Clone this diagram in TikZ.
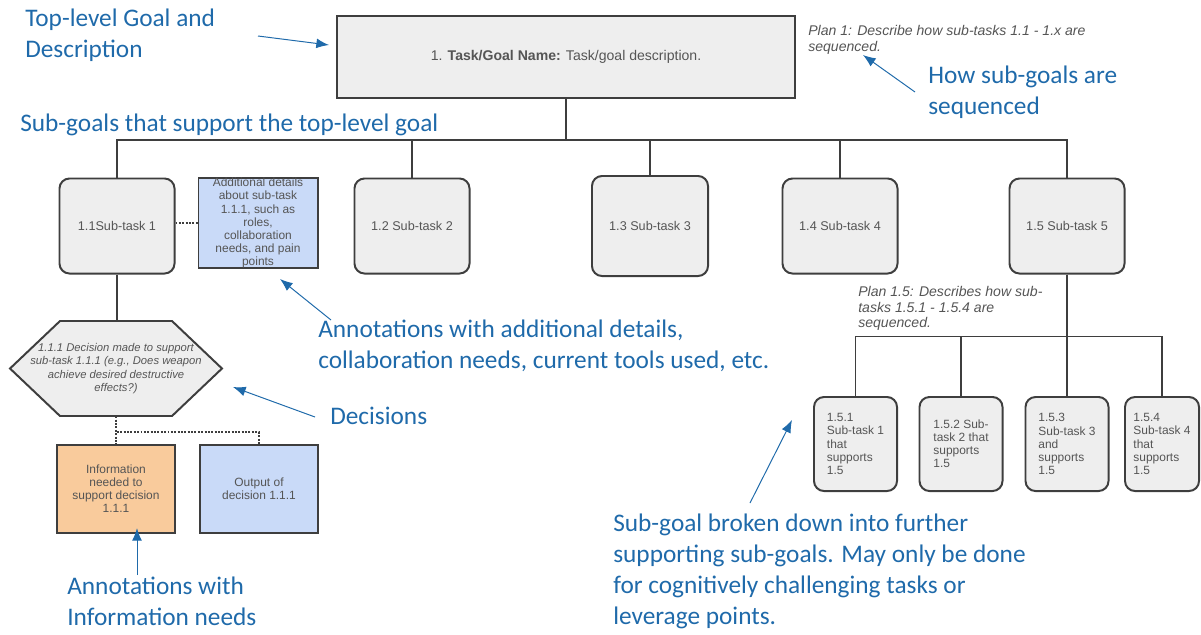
\documentclass[tikz,border=0pt]{standalone}
\usepackage{fontspec}
\setmainfont{Liberation Sans}
\newfontfamily\annfont{Carlito}
\usepackage{tikz}
\usetikzlibrary{arrows.meta}

\definecolor{boxgray}{RGB}{238,238,238}
\definecolor{edgegray}{RGB}{62,62,62}
\definecolor{txtgray}{RGB}{85,85,85}
\definecolor{noteblue}{RGB}{201,218,248}
\definecolor{noteorange}{RGB}{249,203,156}
\definecolor{annblue}{RGB}{31,106,170}

\newcommand{\cellfont}{\fontsize{8.5}{9.3}\selectfont}
\newcommand{\taskfont}{\fontsize{9}{10.5}\selectfont}
\newcommand{\planfont}{\itshape\fontsize{10}{11.2}\selectfont}
\newcommand{\annsize}{\annfont\fontsize{18}{22}\selectfont}

\tikzset{
	task/.style={draw=edgegray, line width=1.4pt, fill=boxgray, rounded corners=0.25cm, text=txtgray, font=\taskfont, minimum width=2.875cm, minimum height=2.375cm, inner sep=0pt},
	subtask/.style={task, font=\cellfont, align=left, minimum width=2.075cm, minimum height=2.35cm},
	note/.style={draw=edgegray, line width=1.4pt, text=txtgray, font=\cellfont, align=center, minimum width=2.95cm, minimum height=2.2cm, inner sep=0pt},
	conn/.style={draw=edgegray, line width=1.4pt},
	dots/.style={draw=edgegray, line width=1.4pt, densely dotted},
	ann/.style={text=annblue, font=\annsize, align=left, anchor=north west, inner sep=0pt},
	point/.style={-{Latex[length=9pt,width=7pt]}, draw=annblue, line width=0.7pt}
}

\begin{document}
\begin{tikzpicture}[x=0.025cm, y=-0.025cm]
	\useasboundingbox (0,0) rectangle (1201,634);
	\begin{scope}
		% top-level goal
		\node[task, rounded corners=0pt, font=\fontsize{10}{12}\selectfont, minimum width=11.45cm, minimum height=2.05cm] (t1) at (566,57) {1. \textbf{Task/Goal Name:} Task/goal description.};
		\node[text=txtgray, font=\planfont, align=left, anchor=north west, inner sep=0pt] (plan1) at (808,25) {Plan 1: Describe how sub-tasks 1.1 - 1.x are\\sequenced.};

		% sub-goals
		\node[task] (t11) at (117,226) {1.1Sub-task 1};
		\node[task] (t12) at (412,226) {1.2 Sub-task 2};
		\node[task, minimum width=2.9cm, minimum height=2.5cm] (t13) at (650,226) {1.3 Sub-task 3};
		\node[task] (t14) at (840,226) {1.4 Sub-task 4};
		\node[task] (t15) at (1067,226) {1.5 Sub-task 5};
		\foreach \n in {t11,t12,t13,t14,t15}
			\draw[conn] (t1.south) -- ++(0,41) -| (\n.north);

		% annotation of 1.1
		\node[note, fill=noteblue, minimum width=2.975cm, minimum height=2.25cm] (det) at (258,223) {Additional details\\about sub-task\\1.1.1, such as\\roles,\\collaboration\\needs, and pain\\points};
		\draw[dots] (t11.east |- det.west) -- (det.west);

		% decision
		\coordinate (decc) at (116,368.5);
		\draw[conn, fill=boxgray] (decc) ++(-106,0) -- ++(50,-47.5) -- ++(112,0) -- ++(50,47.5) -- ++(-50,47.5) -- ++(-112,0) -- cycle;
		\node[text=txtgray, font=\itshape\fontsize{8}{9.4}\selectfont, align=center, minimum width=5.3cm, minimum height=2.375cm, inner sep=0pt] (dec) at (decc) {1.1.1 Decision made to support\\sub-task 1.1.1 (e.g., Does weapon\\achieve desired destructive\\effects?)};
		\draw[conn] (t11.south) -- (t11.south |- dec.north);

		\node[note, fill=noteorange] (info) at (116,489) {Information\\needed to\\support decision\\1.1.1};
		\node[note, fill=noteblue] (out) at (259,489) {Output of\\decision 1.1.1};
		\draw[dots] (dec.south) -- (info.north);
		\draw[dots] (dec.south) -- ++(0,16) -| (out.north);

		% sub-goals of 1.5
		\node[text=txtgray, font=\planfont, align=left, anchor=north west, inner sep=0pt] (plan15) at (858,286) {Plan 1.5: Describes how sub-\\tasks 1.5.1 - 1.5.4 are\\sequenced.};
		\node[subtask] (t151) at (855.5,444) {1.5.1\\Sub-task 1\\that\\supports\\1.5};
		\node[subtask] (t152) at (961,444) {1.5.2 Sub-\\task 2 that\\supports\\1.5};
		\node[subtask] (t153) at (1067,444) {1.5.3\\Sub-task 3\\and\\supports\\1.5};
		\node[subtask, minimum width=1.85cm] (t154) at (1162,444) {1.5.4\\Sub-task 4\\that\\supports\\1.5};
		\foreach \n in {t151,t152,t153,t154}
			\draw[conn] (t15.south) -- ++(0,62) -| (\n.north);

		% blue call-outs
		\node[ann] (atop) at (25,9) {Top-level Goal and\\Description};
		\node[ann] (asub) at (20,114) {Sub-goals that support the top-level goal};
		\node[ann] (aseq) at (928,66) {How sub-goals are\\sequenced};
		\node[ann] (adet) at (318,320) {Annotations with additional details,\\collaboration needs, current tools used, etc.};
		\node[ann] (adec) at (330,407) {Decisions};
		\node[ann] (ainf) at (67,577) {Annotations with\\Information needs};
		\node[ann] (abrk) at (613,514) {Sub-goal broken down into further\\supporting sub-goals. May only be done\\for cognitively challenging tasks or\\leverage points.};

		\coordinate (p1) at (258,36);   \coordinate (q1) at (329,45);  % to top box
		\coordinate (p2) at (915,92);   \coordinate (q2) at (863,55);  % to plan 1
		\coordinate (p3) at (331,320);  \coordinate (q3) at (280,279); % to details
		\coordinate (p4) at (315,417);  \coordinate (q4) at (233,387); % to decision
		\coordinate (p5) at (137,575);  \coordinate (q5) at (137,528); % to information
		\coordinate (p6) at (750,503);  \coordinate (q6) at (792,420); % to 1.5.x
		\foreach \i in {1,...,6}
			\draw[point] (p\i) -- (q\i);
	\end{scope}
\end{tikzpicture}
\end{document}
